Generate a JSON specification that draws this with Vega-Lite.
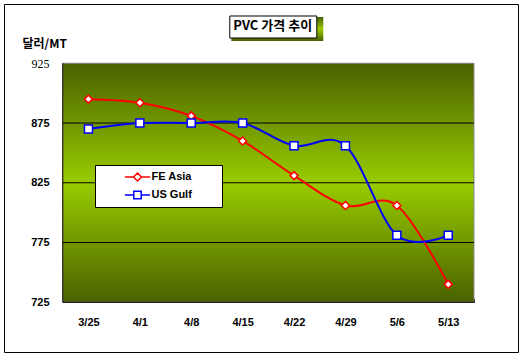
{
  "$schema": "https://vega.github.io/schema/vega-lite/v6.json",
  "width": 514,
  "height": 348,
  "autosize": {"type": "none"},
  "padding": {"left": 4, "top": 4, "right": 11, "bottom": 4},
  "background": "white",
  "config": {
    "view": {"stroke": "black", "strokeWidth": 1, "fill": "white"},
    "font": "Liberation Sans"
  },
  "data": {
    "values": [
      {"date": "3/25", "series": "FE Asia", "price": 895},
      {"date": "4/1", "series": "FE Asia", "price": 892},
      {"date": "4/8", "series": "FE Asia", "price": 881},
      {"date": "4/15", "series": "FE Asia", "price": 860},
      {"date": "4/22", "series": "FE Asia", "price": 831},
      {"date": "4/29", "series": "FE Asia", "price": 806},
      {"date": "5/6", "series": "FE Asia", "price": 806},
      {"date": "5/13", "series": "FE Asia", "price": 740},
      {"date": "3/25", "series": "US Gulf", "price": 870},
      {"date": "4/1", "series": "US Gulf", "price": 875},
      {"date": "4/8", "series": "US Gulf", "price": 875},
      {"date": "4/15", "series": "US Gulf", "price": 875},
      {"date": "4/22", "series": "US Gulf", "price": 856},
      {"date": "4/29", "series": "US Gulf", "price": 856},
      {"date": "5/6", "series": "US Gulf", "price": 781},
      {"date": "5/13", "series": "US Gulf", "price": 781}
    ]
  },
  "layer": [
    {
      "mark": {"type": "line", "interpolate": "cardinal", "tension": 0, "strokeWidth": 2, "opacity": 0},
      "encoding": {
        "x": {
          "field": "date", "type": "ordinal",
          "scale": {
            "type": "band",
            "domain": ["3/25", "4/1", "4/8", "4/15", "4/22", "4/29", "5/6", "5/13"],
            "paddingInner": 0, "paddingOuter": 1.027, "align": 0.5714
          },
          "axis": {
            "title": null, "offset": -49.7, "domain": false, "grid": false,
            "tickBand": "extent", "tickSize": -4, "tickColor": "black",
            "labelAngle": 0, "labelFont": "Liberation Sans", "labelFontWeight": "bold",
            "labelFontSize": 11, "labelColor": "black", "labelPadding": 18
          }
        },
        "y": {
          "field": "price", "type": "quantitative",
          "scale": {"domain": [683.4, 974.6], "nice": false, "zero": false},
          "axis": {
            "values": [725, 775, 825, 875, 925],
            "offset": -60, "domain": false, "ticks": false, "grid": false,
            "labelFont": {"condition": {"test": "datum.value == 925", "value": "Liberation Serif"}, "value": "Liberation Sans"},
            "labelFontWeight": {"condition": {"test": "datum.value == 925", "value": "normal"}, "value": "bold"},
            "labelFontSize": {"condition": {"test": "datum.value == 925", "value": 12}, "value": 11},
            "labelColor": "black", "labelPadding": 15,
            "title": "달러/MT", "titleFont": "Noto Sans CJK KR", "titleFontSize": 12,
            "titleFontWeight": "bold", "titleColor": "black", "titleAngle": 0,
            "titleAlign": "left", "titleBaseline": "middle", "titleX": -42, "titleY": 39
          }
        }
      }
    },
    {
      "data": {"values": [{"k": "plot"}]},
      "mark": {
        "type": "rect",
        "fill": {
          "gradient": "linear", "x1": 0, "y1": 0, "x2": 0, "y2": 1,
          "stops": [
            {"offset": 0, "color": "#4a6100"},
            {"offset": 0.5, "color": "#99cc00"},
            {"offset": 1, "color": "#4a6100"}
          ]
        },
        "stroke": "#808080",
        "strokeWidth": 1
      },
      "encoding": {
        "x": {"datum": "3/25", "type": "ordinal", "bandPosition": 0},
        "x2": {"datum": "5/13", "bandPosition": 1},
        "y": {"datum": 725, "type": "quantitative"},
        "y2": {"datum": 925},
        "opacity": {
          "field": "k", "type": "nominal",
          "scale": {"range": [1]},
          "legend": {
            "orient": "none", "legendX": 227.3, "legendY": -21,
            "title": null, "padding": 0,
            "symbolType": "M-1,-0.26H1V0.26H-1Z", "symbolSize": 8464,
            "symbolFillColor": "black", "symbolStrokeColor": "black", "symbolStrokeWidth": 0,
            "symbolOpacity": 1, "symbolOffset": 0,
            "labelFontSize": 1, "labelOpacity": 0, "labelExpr": "''", "rowPadding": 0,
            "encode": {
              "symbols": {"update": {"fill": {"value": "black"}, "opacity": {"value": 1}, "shape": {"value": "M-1,-0.26H1V0.26H-1Z"}}}
            }
          }
        }
      }
    },
    {
      "data": {"values": [{"g": 725}, {"g": 775}, {"g": 825}, {"g": 875}]},
      "mark": {"type": "rule", "color": "black", "strokeWidth": 1},
      "encoding": {
        "x": {"datum": "3/25", "type": "ordinal", "bandPosition": 0},
        "x2": {"datum": "5/13", "bandPosition": 1},
        "y": {"field": "g", "type": "quantitative"}
      }
    },
    {
      "data": {"values": [{"k": "left"}]},
      "mark": {"type": "rule", "color": "black", "strokeWidth": 1},
      "encoding": {
        "x": {"datum": "3/25", "type": "ordinal", "bandPosition": 0},
        "y": {"datum": 725, "type": "quantitative"},
        "y2": {"datum": 925},
        "strokeDash": {
          "field": "k", "type": "nominal",
          "scale": {"range": [[1, 0]]},
          "legend": {
            "orient": "none", "legendX": 225.3, "legendY": 11.5,
            "title": "PVC 가격 추이",
            "fillColor": "white", "strokeColor": "black", "padding": 4,
            "titleFont": "Noto Sans CJK KR", "titleFontSize": 13, "titleFontWeight": "bold",
            "titleColor": "black", "titlePadding": 0,
            "symbolSize": 1, "symbolOpacity": 0, "symbolStrokeWidth": 0.01,
            "labelFontSize": 1, "labelOpacity": 0, "labelExpr": "''", "rowPadding": 0
          }
        }
      }
    },
    {
      "mark": {"type": "line", "interpolate": "cardinal", "tension": 0, "strokeWidth": 2},
      "encoding": {
        "x": {"field": "date", "type": "ordinal"},
        "y": {"field": "price", "type": "quantitative"},
        "color": {
          "field": "series", "type": "nominal",
          "scale": {"domain": ["FE Asia", "US Gulf"], "range": ["#ff0000", "#0000ff"]},
          "legend": {
            "orient": "none", "legendX": 91, "legendY": 161, "title": null,
            "fillColor": "white", "strokeColor": "black", "padding": 5,
            "symbolOffset": 30.5, "symbolSize": 144, "symbolStrokeWidth": 1.5,
            "labelFont": "Liberation Sans", "labelFontWeight": "bold", "labelFontSize": 11,
            "labelColor": "black", "labelOffset": 7, "rowPadding": 3,
            "labelExpr": "datum.label + '\u00a0\u00a0\u00a0\u00a0\u00a0\u00a0\u00a0\u00a0\u200b'",
            "encode": {
              "symbols": {
                "update": {
                  "shape": {"signal": "datum.value == 'FE Asia' ? 'M-2.1,0H-0.67M-0.67,0L0,-0.67L0.67,0L0,0.67ZM0.67,0H2.1' : 'M-2.1,0H-0.62M-0.62,-0.62H0.62V0.62H-0.62ZM0.62,0H2.1'"},
                  "fill": {"value": "white"}
                }
              }
            }
          }
        }
      }
    },
    {
      "transform": [{"filter": "datum.series == 'FE Asia'"}],
      "mark": {"type": "point", "shape": "diamond", "filled": true, "fill": "white", "stroke": "#ff0000", "strokeWidth": 1.5, "size": 64, "opacity": 1},
      "encoding": {
        "x": {"field": "date", "type": "ordinal"},
        "y": {"field": "price", "type": "quantitative"}
      }
    },
    {
      "transform": [{"filter": "datum.series == 'US Gulf'"}],
      "mark": {"type": "point", "shape": "square", "filled": true, "fill": "white", "stroke": "#0000ff", "strokeWidth": 1.5, "size": 64, "opacity": 1},
      "encoding": {
        "x": {"field": "date", "type": "ordinal"},
        "y": {"field": "price", "type": "quantitative"}
      }
    }
  ]
}
